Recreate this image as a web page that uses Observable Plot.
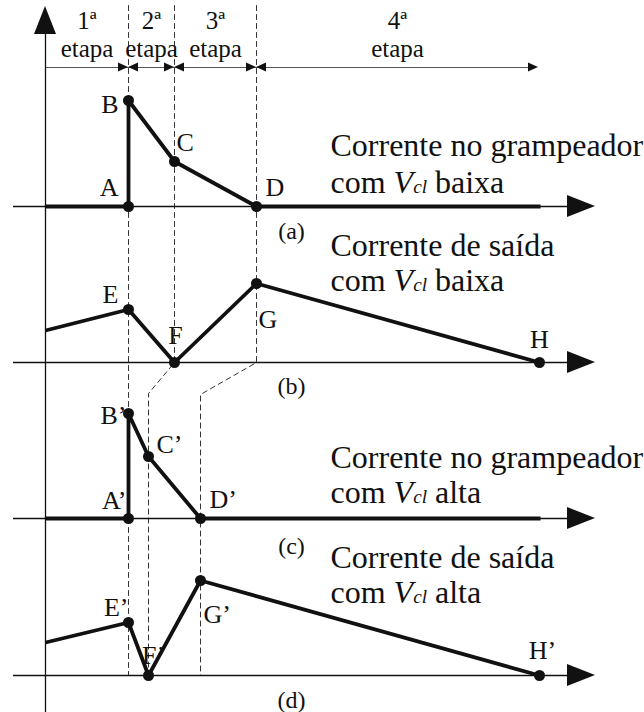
<!DOCTYPE html>
<html>
<head>
<meta charset="utf-8">
<script src="https://cdn.jsdelivr.net/npm/d3@7"></script>
<script src="https://cdn.jsdelivr.net/npm/@observablehq/plot@0.6"></script>
<style>
  html, body { margin: 0; padding: 0; background: #fff; }
  #chart svg { display: block; }
</style>
</head>
<body>
<div id="chart"></div>
<script>
// ---- Data: time instants are measured from the vertical axis ----
const stageBounds  = [0, 83, 129, 211, 493];
const stageNumbers = ["1ª", "2ª", "3ª", "4ª"];
const stageWord    = "etapa";

// (a) clamp current with low Vcl
const clampLowT     = [0, 83, 83, 129, 211, 495];
const clampLowI     = [0, 0, 106, 45, 0, 0];
const clampLowNames = ["", "A", "B", "C", "D", ""];

// (b) output current with low Vcl
const outLowT     = [0, 83, 129, 211, 494];
const outLowI     = [32, 53, 0, 79, 0];
const outLowNames = ["", "E", "F", "G", "H"];

// (c) clamp current with high Vcl
const clampHighT     = [0, 83, 83, 103, 155, 495];
const clampHighI     = [0, 0, 105, 62, 0, 0];
const clampHighNames = ["", "A’", "B’", "C’", "D’", ""];

// (d) output current with high Vcl
const outHighT     = [0, 83, 103, 155, 494];
const outHighI     = [33, 53, 0, 95, 0];
const outHighNames = ["", "E’", "F’", "G’", "H’"];

const panelCaptions = ["(a)", "(b)", "(c)", "(d)"];
const panelTitles = [
  ["Corrente no grampeador", "com Vcl baixa"],
  ["Corrente de saída", "com Vcl baixa"],
  ["Corrente no grampeador", "com Vcl alta"],
  ["Corrente de saída", "com Vcl alta"]
];

// ---- Layout ----
const W = 644, H = 712;
const X0 = 45;                               // pixel column of the vertical axis
const panelBase = [506, 350, 194, 37];       // zero line of each panel (y units, upward)
const titleRise = [[51, 14], [107, 72], [51, 16], [108, 73]];
const captionDrop = [32, 31, 35, 32];
const axisLeft = -32, axisArrowBase = 522, axisArrowTip = 550, arrowHalf = 11;
const topY = 707;                            // top end of the dashed guides
const stageY = H - 67;                       // stage ruler

// label offsets in pixels: [dx (right), dy (down), anchor]
const labelPlacement = {
  "A": [-10, -11, "end"], "B": [-10, 12, "end"], "C": [2, -11, "start"], "D": [9, -11, "start"],
  "E": [-10, -7, "end"], "F": [1, -19, "middle"], "G": [2, 44, "start"], "H": [0, -15, "middle"],
  "A’": [-2, -10, "end"], "B’": [-2, 10, "end"], "C’": [8, -4, "start"], "D’": [9, -11, "start"],
  "E’": [0, -7, "end"], "F’": [5, -12, "middle"], "G’": [3, 42, "start"], "H’": [3, -17, "middle"]
};

const series = [
  {t: clampLowT,  i: clampLowI,  n: clampLowNames},
  {t: outLowT,    i: outLowI,    n: outLowNames},
  {t: clampHighT, i: clampHighI, n: clampHighNames},
  {t: outHighT,   i: outHighI,   n: outHighNames}
];

// waveform vertices, tagged with their panel
const wave = series.flatMap((s, p) =>
  s.t.map((t, k) => ({panel: p, t, y: panelBase[p] + s.i[k], name: s.n[k]})));
const points = wave.filter(d => d.name);
const labels = points.map(d => {
  const [dx, dy, anchor] = labelPlacement[d.name];
  return {text: d.name, t: d.t + dx, y: d.y - dy, anchor};
});

// dashed guides: stage boundaries of (a)/(b) carried down to the instants of (c)/(d)
const guides = [
  [{t: stageBounds[1], y: topY}, {t: stageBounds[1], y: panelBase[3]}],
  [{t: stageBounds[2], y: topY}, {t: stageBounds[2], y: panelBase[1]},
   {t: clampHighT[3], y: panelBase[1] - 31}, {t: clampHighT[3], y: panelBase[3]}],
  [{t: stageBounds[3], y: topY}, {t: stageBounds[3], y: panelBase[1]},
   {t: clampHighT[4], y: panelBase[1] - 32}, {t: clampHighT[4], y: panelBase[3]}]
].flatMap((g, id) => g.map(d => ({...d, id})));

// filled triangular arrowheads, drawn as areas
const hArrows = panelBase.flatMap((b, id) => [
  {id, t: axisArrowBase, y1: b - arrowHalf, y2: b + arrowHalf},
  {id, t: axisArrowTip, y1: b, y2: b}
]);
const vArrow = [{y: 678, x1: -arrowHalf, x2: arrowHalf}, {y: 706, x1: 0, x2: 0}];
const sH = 4.5, sL = 10;
const stageArrows = [];
stageBounds.slice(1, 4).forEach((b, k) => {
  stageArrows.push({id: "l" + k, t: b - sL, y1: stageY - sH, y2: stageY + sH},
                   {id: "l" + k, t: b, y1: stageY, y2: stageY});
  stageArrows.push({id: "r" + k, t: b, y1: stageY, y2: stageY},
                   {id: "r" + k, t: b + sL, y1: stageY - sH, y2: stageY + sH});
});
const endT = stageBounds[4];
stageArrows.push({id: "end", t: endT - sL, y1: stageY - sH, y2: stageY + sH},
                 {id: "end", t: endT, y1: stageY, y2: stageY});

const ink = "#111";
const textFont = 26;

const titleRows = panelTitles.flatMap((rows, p) =>
  rows.map((text, r) => ({text, y: panelBase[p] + titleRise[p][r]})));
const captions = panelCaptions.map((text, p) => ({text, y: panelBase[p] - captionDrop[p]}));
const stageMid = stageNumbers.map((s, k) => ({
  num: s, t: (stageBounds[k] + stageBounds[k + 1]) / 2
}));

const labelMarks = ["start", "middle", "end"].map(a =>
  Plot.text(labels.filter(d => d.anchor === a), {
    x: "t", y: "y", text: "text", textAnchor: a, lineAnchor: "bottom",
    fontSize: textFont, fill: ink
  }));

const chart = Plot.plot({
  width: W, height: H, margin: 0,
  x: {domain: [-X0, W - X0], axis: null},
  y: {domain: [0, H], axis: null},
  style: {fontFamily: "'Liberation Serif', 'Times New Roman', serif", background: "#fff", color: ink},
  marks: [
    // dashed stage guides
    Plot.line(guides, {x: "t", y: "y", z: "id", stroke: "#333", strokeWidth: 1,
      strokeDasharray: "5,4", curve: "linear"}),
    // stage ruler
    Plot.ruleY([stageY], {x1: () => 0, x2: () => endT - 4, stroke: "#555", strokeWidth: 1.2}),
    Plot.areaY(stageArrows, {x: "t", y1: "y1", y2: "y2", z: "id", fill: ink}),
    // panel zero lines and vertical axis
    Plot.ruleY(panelBase, {x1: () => axisLeft, x2: () => axisArrowBase + 4, stroke: ink, strokeWidth: 1.3}),
    Plot.areaY(hArrows, {x: "t", y1: "y1", y2: "y2", z: "id", fill: ink}),
    Plot.ruleX([0], {y1: () => 0, y2: () => 680, stroke: ink, strokeWidth: 1.3}),
    Plot.areaX(vArrow, {y: "y", x1: "x1", x2: "x2", fill: ink}),
    // waveforms
    Plot.line(wave, {x: "t", y: "y", z: "panel", stroke: ink, strokeWidth: 3.8,
      strokeLinejoin: "miter", strokeLinecap: "butt"}),
    Plot.dot(points, {x: "t", y: "y", r: 5.5, fill: ink, stroke: "none"}),
    ...labelMarks,
    // stage headings
    Plot.text(stageMid, {x: "t", y: () => H - 28, text: "num", fontSize: 25, lineAnchor: "bottom", fill: ink}),
    Plot.text(stageMid, {x: "t", y: () => H - 56, text: () => stageWord, fontSize: 25, lineAnchor: "bottom", fill: ink}),
    // panel titles and captions
    Plot.text(titleRows, {x: () => 285, y: "y", text: "text", textAnchor: "start",
      lineAnchor: "bottom", fontSize: 32, fill: ink}),
    Plot.text(captions, {x: () => 246, y: "y", text: "text", lineAnchor: "bottom",
      fontSize: 24, fill: ink})
  ]
});

// italic V with a small italic "cl" index
d3.select(chart).selectAll("text").each(function () {
  const s = this.textContent;
  if (!s.includes("Vcl")) return;
  const [pre, post] = s.split("Vcl");
  const el = d3.select(this).text(null);
  el.append("tspan").text(pre);
  el.append("tspan").attr("font-style", "italic").text("V");
  el.append("tspan").attr("font-style", "italic").attr("font-size", "0.6em").text("cl");
  el.append("tspan").text(post);
});

document.getElementById("chart").append(chart);
</script>
</body>
</html>
